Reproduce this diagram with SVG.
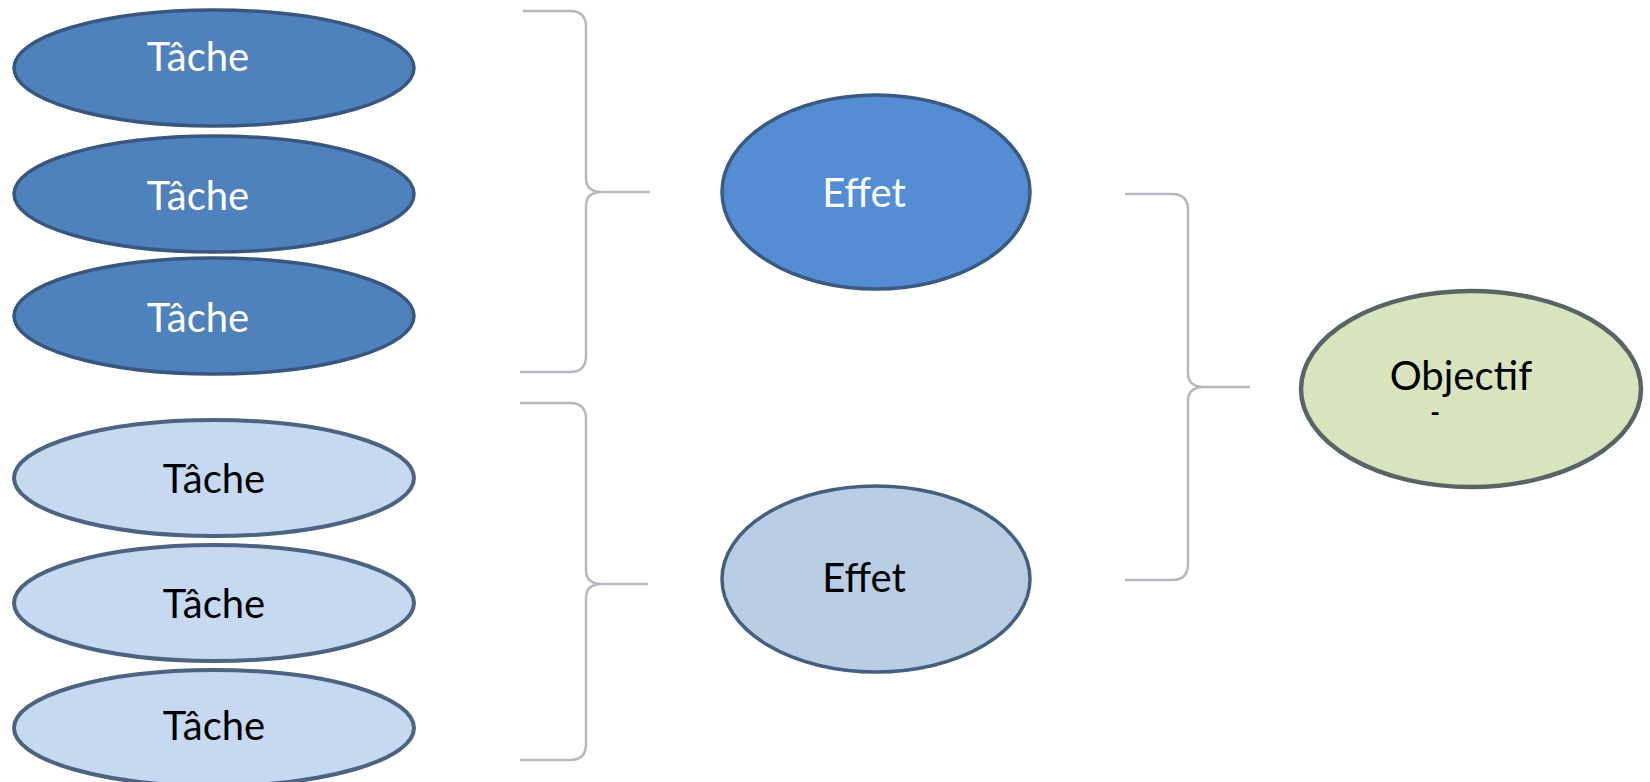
<svg xmlns="http://www.w3.org/2000/svg" width="1650" height="782" viewBox="0 0 1650 782">
  <style>
    .lbl { font-family: Lato, "Open Sans", "Liberation Sans", sans-serif; font-size: 40px; text-anchor: middle; }
    .w { fill: #ffffff; }
    .k { fill: #000000; }
    .dark { fill: #4f81bd; stroke: #38577f; stroke-width: 3.5; }
    .effA { fill: #548dd4; stroke: #3a5a80; stroke-width: 3.5; }
    .light { fill: #c6d9f1; stroke: #4c6480; stroke-width: 4; }
    .effB { fill: #b9cde5; stroke: #45607e; stroke-width: 3.5; }
    .obj { fill: #d7e4bd; stroke: #586466; stroke-width: 4.5; }
    .brace { fill: none; stroke: #b4b8c0; stroke-width: 2.5; }
  </style>
  <rect width="1650" height="782" fill="#ffffff"/>
  <g id="connectors">
    <path class="brace" d="M523,11 L570,11 Q586,11 586,27 L586,178 Q586,192 602,192 Q586,192 586,206 L586,356 Q586,372 570,372 L520,372"/>
    <line class="brace" x1="602" y1="192" x2="650" y2="192"/>
    <path class="brace" d="M520,403 L570,403 Q586,403 586,419 L586,570 Q586,584 602,584 Q586,584 586,598 L586,744 Q586,760 570,760 L520,760"/>
    <line class="brace" x1="602" y1="584" x2="648" y2="584"/>
    <path class="brace" d="M1125,194 L1172,194 Q1188,194 1188,210 L1188,373 Q1188,387 1204,387 Q1188,387 1188,401 L1188,564 Q1188,580 1172,580 L1125,580"/>
    <line class="brace" x1="1204" y1="387" x2="1250" y2="387"/>
  </g>
  <g id="tache1"><ellipse class="dark" cx="214" cy="68" rx="200" ry="58"/><text class="lbl w" x="198" y="71">Tâche</text></g>
  <g id="tache2"><ellipse class="dark" cx="214" cy="194" rx="200" ry="58"/><text class="lbl w" x="198" y="210">Tâche</text></g>
  <g id="tache3"><ellipse class="dark" cx="214" cy="316" rx="200" ry="58"/><text class="lbl w" x="198" y="332">Tâche</text></g>
  <g id="tache4"><ellipse class="light" cx="214" cy="478" rx="200" ry="58"/><text class="lbl k" x="214" y="493">Tâche</text></g>
  <g id="tache5"><ellipse class="light" cx="214" cy="603" rx="200" ry="58"/><text class="lbl k" x="214" y="618">Tâche</text></g>
  <g id="tache6"><ellipse class="light" cx="214" cy="728" rx="200" ry="58"/><text class="lbl k" x="214" y="740">Tâche</text></g>
  <g id="effet1"><ellipse class="effA" cx="876" cy="192" rx="154" ry="97"/><text class="lbl w" x="864" y="207">Effet</text></g>
  <g id="effet2"><ellipse class="effB" cx="876" cy="579" rx="154" ry="93"/><text class="lbl k" x="864" y="592">Effet</text></g>
  <g id="objectif"><ellipse class="obj" cx="1471" cy="389" rx="170" ry="98"/><text class="lbl k" x="1461" y="390">Objectif</text><text class="k" x="1435" y="422" style="font-family: Lato, sans-serif; font-size: 26px; font-weight: bold; text-anchor: middle;">-</text></g>
</svg>
